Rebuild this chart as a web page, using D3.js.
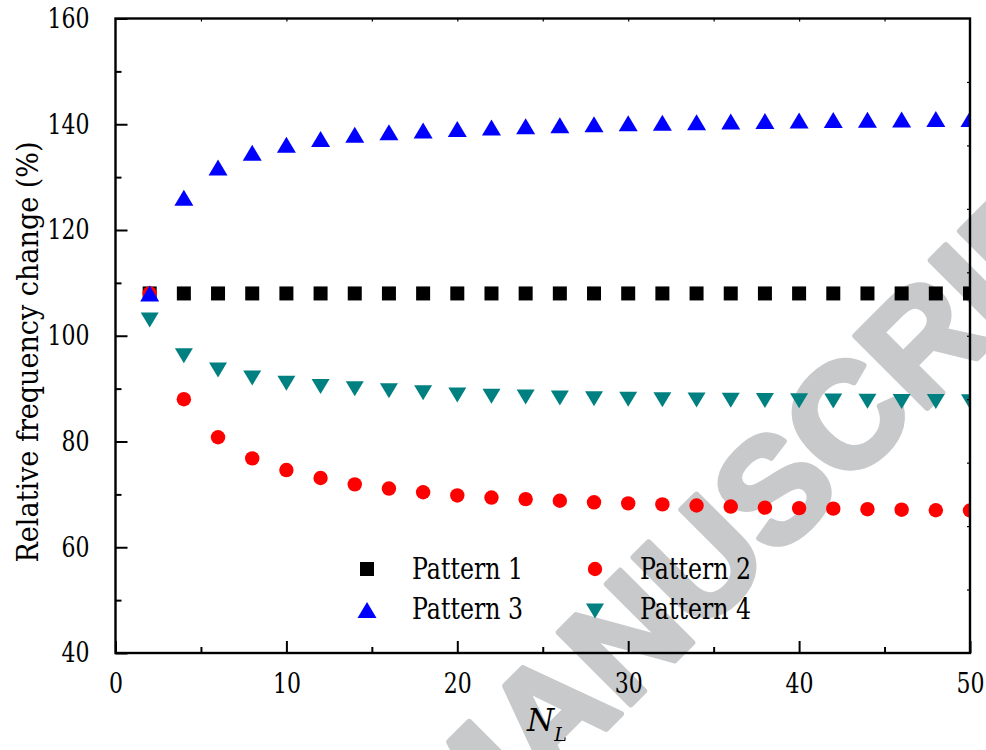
<!DOCTYPE html>
<html>
<head>
<meta charset="utf-8">
<script src="https://cdn.jsdelivr.net/npm/d3@7"></script>
<style>
html,body{margin:0;padding:0;background:#fff;}
svg{display:block;}
</style>
</head>
<body>
<svg id="chart" width="986" height="750"></svg>
<script>
// ---- data ----
const nL = [2,4,6,8,10,12,14,16,18,20,22,24,26,28,30,32,34,36,38,40,42,44,46,48,50];
const pattern1 = [108,108,108,108,108,108,108,108,108,108,108,108,108,108,108,108,108,108,108,108,108,108,108,108,108];
const pattern2 = [108,88.0,80.8,76.8,74.6,73.1,71.9,71.1,70.4,69.8,69.4,69.1,68.8,68.5,68.3,68.1,67.9,67.7,67.5,67.4,67.3,67.2,67.1,67.0,66.95];
const pattern3 = [108,126.1,131.8,134.6,136.1,137.2,138.0,138.5,138.8,139.1,139.4,139.6,139.8,140.0,140.2,140.3,140.4,140.5,140.6,140.7,140.8,140.85,140.9,141.0,141.0];
const pattern4 = [103,96.2,93.5,92.0,91.0,90.4,90.0,89.6,89.2,88.8,88.55,88.4,88.25,88.1,88.0,87.9,87.85,87.8,87.75,87.7,87.65,87.6,87.55,87.55,87.5];
const seriesNames = ["Pattern 1","Pattern 2","Pattern 3","Pattern 4"];
const xTicks = [0,10,20,30,40,50];
const yTicks = [40,60,80,100,120,140,160];
const xLabel = "N";
const xLabelSub = "L";
const yLabel = "Relative frequency change (%)";
const watermark = "ACCEPTED MANUSCRIPT";

// ---- layout ----
const svg = d3.select("#chart");
const L = 115.5, R = 970, T = 18.5, B = 653;
const x = d3.scaleLinear().domain([0,50]).range([L,R]);
const y = d3.scaleLinear().domain([40,160]).range([B,T]);
const sansFam = "Liberation Sans, Arial, sans-serif";
const serif = "DejaVu Serif, serif";

// compress a serif text horizontally (DejaVu Serif is wider than Times)
function squeeze(sel, f){
  sel.each(function(){
    const w = this.getComputedTextLength();
    d3.select(this).attr("textLength", w * f).attr("lengthAdjust","spacingAndGlyphs");
  });
}

// watermark (behind)
const wmSize = 148;
const wm = svg.append("text")
  .attr("transform", "translate(461,874) rotate(-45)")
  .style("font-family", sansFam)
  .style("font-weight", "bold")
  .style("font-size", wmSize + "px")
  .attr("fill", "#c8c9cb").attr("stroke","#c8c9cb").attr("stroke-width",6).attr("stroke-linejoin","round")
  .text(watermark);
{
  const tmp = svg.append("text").style("font-family",sansFam)
    .style("font-weight","bold").style("font-size",wmSize+"px").text("ACCEPTED\u00a0");
  const pre = tmp.node().getComputedTextLength();
  tmp.remove();
  wm.attr("x", -pre);
}

// clip for markers
svg.append("defs").append("clipPath").attr("id","plotclip")
  .append("rect").attr("x",L).attr("y",T).attr("width",R-L).attr("height",B-T);

// ---- markers ----
const tri = (w,h,up) => up
  ? `M0,${-h/2}L${w/2},${h/2}L${-w/2},${h/2}Z`
  : `M0,${h/2}L${w/2},${-h/2}L${-w/2},${-h/2}Z`;
const styles = [
  {vals: pattern1, color:"#000000", draw: g => g.append("rect").attr("x",-7).attr("y",-7).attr("width",14).attr("height",14)},
  {vals: pattern2, color:"#ff0000", draw: g => g.append("circle").attr("r",7.2)},
  {vals: pattern3, color:"#0000ff", draw: g => g.append("path").attr("d",tri(19,16,true))},
  {vals: pattern4, color:"#008080", draw: g => g.append("path").attr("d",tri(18,15,false))}
];
const marks = svg.append("g").attr("clip-path","url(#plotclip)");
styles.forEach(s => {
  const gs = marks.append("g").attr("fill", s.color);
  nL.forEach((n,i) => {
    const g = gs.append("g").attr("transform",`translate(${x(n)},${y(s.vals[i])})`);
    s.draw(g);
  });
});

// ---- axes ----
const axG = svg.append("g");
function styleAxis(g){
  g.select(".domain").remove();
  g.selectAll("line").attr("stroke","#000").attr("stroke-width",2);
}
function styleText(g){
  g.attr("font-family",null).attr("font-size",null);
  g.selectAll("text").style("font-family",serif).style("font-size","27.5px").attr("fill","#000")
    .call(squeeze, 0.8);
}
axG.append("g").attr("transform",`translate(0,${B})`)
  .call(d3.axisBottom(x).tickValues(xTicks).tickSizeInner(-12).tickSizeOuter(0).tickPadding(20).tickFormat(d3.format("d")))
  .call(styleAxis).call(styleText);
axG.append("g").attr("transform",`translate(0,${B})`)
  .call(d3.axisBottom(x).tickValues([5,15,25,35,45]).tickSizeInner(-6).tickSizeOuter(0).tickFormat(""))
  .call(styleAxis);
axG.append("g").attr("transform",`translate(${L},0)`)
  .call(d3.axisLeft(y).tickValues(yTicks).tickSizeInner(-12).tickSizeOuter(0).tickPadding(26).tickFormat(d3.format("d")))
  .call(styleAxis).call(styleText);
axG.append("g").attr("transform",`translate(${L},0)`)
  .call(d3.axisLeft(y).tickValues([50,70,90,110,130,150]).tickSizeInner(-6).tickSizeOuter(0).tickFormat(""))
  .call(styleAxis);
axG.append("g").attr("transform",`translate(0,${T})`)
  .call(d3.axisTop(x).tickValues([5,10,15,20,25,30,35,40,45]).tickSizeInner(-3).tickSizeOuter(0).tickFormat(""))
  .call(styleAxis)
  .call(g => g.selectAll("line").attr("stroke-width",1.2));
const yr = d3.scaleLinear().domain([0,10]).range([B,T]);
axG.append("g").attr("transform",`translate(${R},0)`)
  .call(d3.axisRight(yr).tickValues(d3.range(1,10)).tickSizeInner(-3).tickSizeOuter(0).tickFormat(""))
  .call(styleAxis)
  .call(g => g.selectAll("line").attr("stroke-width",1.2));
svg.append("rect").attr("x",L).attr("y",T).attr("width",R-L).attr("height",B-T)
  .attr("fill","none").attr("stroke","#000").attr("stroke-width",2.4);

// ---- axis labels ----
svg.append("text")
  .attr("transform","translate(38,352) rotate(-90)")
  .attr("text-anchor","middle")
  .style("font-family",serif).style("font-size","30px").attr("fill","#000")
  .text(yLabel)
  .attr("textLength", 421).attr("lengthAdjust","spacingAndGlyphs");
const xl = svg.append("text").attr("x",527).attr("y",731)
  .style("font-family",serif).style("font-size","31px").attr("fill","#000");
xl.append("tspan").style("font-style","italic").text(xLabel);
xl.append("tspan").style("font-style","italic").style("font-size","19px").attr("dy",10).text(xLabelSub);

// ---- legend ----
const legend = svg.append("g");
const legPos = [[367,569],[595,569],[367,610],[595,611]];
styles.forEach((s,i) => {
  const g = legend.append("g").attr("fill",s.color).attr("transform",`translate(${legPos[i][0]},${legPos[i][1]})`);
  s.draw(g);
  legend.append("text").attr("x",legPos[i][0] + 45).attr("y",i<2 ? 579 : 619)
    .style("font-family",serif).style("font-size","29px").attr("fill","#000")
    .text(seriesNames[i])
    .attr("textLength", 111).attr("lengthAdjust","spacingAndGlyphs");
});
</script>
</body>
</html>
